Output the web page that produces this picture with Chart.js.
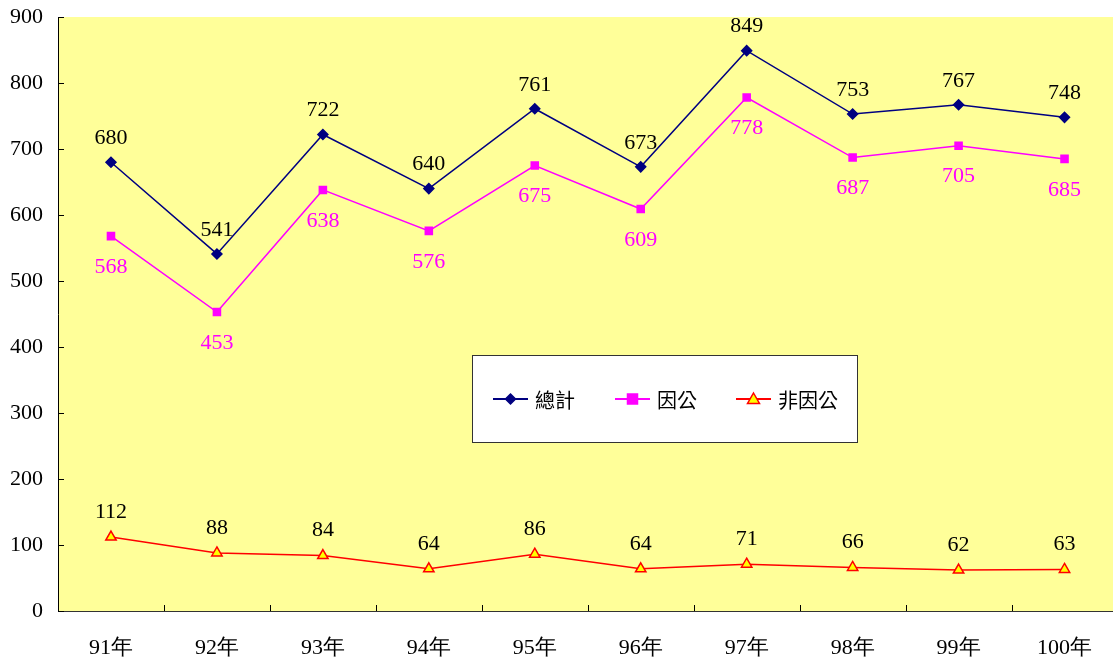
<!DOCTYPE html>
<html>
<head>
<meta charset="utf-8">
<script src="https://cdn.jsdelivr.net/npm/chart.js@4.4.0/dist/chart.umd.min.js"></script>
<style>
  html, body { margin: 0; padding: 0; background: #fff; overflow: hidden; }
  #wrap { width: 1125px; height: 660px; position: relative; }
</style>
</head>
<body>
<div id="wrap"><canvas id="chart"></canvas></div>
<script>
// data
const years = ['91年', '92年', '93年', '94年', '95年', '96年', '97年', '98年', '99年', '100年']
const total = [680, 541, 722, 640, 761, 673, 849, 753, 767, 748]
const onDuty = [568, 453, 638, 576, 675, 609, 778, 687, 705, 685]
const offDuty = [112, 88, 84, 64, 86, 64, 71, 66, 62, 63]
const seriesNames = ['總計', '因公', '非因公']

const serif = "'Liberation Serif', 'Times New Roman', serif"
const cjk = "'Noto Sans CJK TC', 'Noto Sans', sans-serif"

// yellow plot background + inward ticks
const plotBg = {
  id: 'plotBg',
  beforeDraw(chart) {
    const a = chart.chartArea, c = chart.ctx
    c.save()
    c.fillStyle = '#FFFF99'
    c.fillRect(a.left, a.top, a.right - a.left, a.bottom - a.top)
    c.restore()
  },
  afterDraw(chart) {
    const a = chart.chartArea, c = chart.ctx
    const x = chart.scales.x, y = chart.scales.y
    c.save()
    c.strokeStyle = '#000'
    c.lineWidth = 1
    c.beginPath()
    y.ticks.forEach((t, i) => {
      const py = Math.round(y.getPixelForTick(i)) + 0.5
      c.moveTo(a.left, py); c.lineTo(a.left + 6, py)
    })
    const half = (x.getPixelForValue(1) - x.getPixelForValue(0)) / 2
    for (let i = 1; i < years.length; i++) {
      const px = Math.round(x.getPixelForValue(i) - half) + 0.5
      c.moveTo(px, a.bottom); c.lineTo(px, a.bottom - 6)
    }
    c.stroke()
    c.restore()
  }
}

// value labels
const valueLabels = {
  id: 'valueLabels',
  afterDatasetsDraw(chart) {
    const c = chart.ctx
    c.save()
    c.font = '22px ' + serif
    c.textAlign = 'center'
    c.textBaseline = 'middle'
    chart.data.datasets.forEach((ds, di) => {
      const meta = chart.getDatasetMeta(di)
      meta.data.forEach((pt, i) => {
        c.fillStyle = ds.labelColor
        c.fillText(ds.data[i], pt.x, pt.y + ds.labelOffset)
      })
    })
    c.restore()
  }
}

// legend box inside plot
const boxLegend = {
  id: 'boxLegend',
  afterDraw(chart) {
    const c = chart.ctx
    const bx = 472, by = 355, bw = 385, bh = 87
    c.save()
    c.fillStyle = '#fff'
    c.fillRect(bx, by, bw, bh)
    c.strokeStyle = '#333'
    c.lineWidth = 1
    c.strokeRect(bx + 0.5, by + 0.5, bw, bh)
    const cy = by + 44
    const starts = [493, 615, 736]
    chart.data.datasets.forEach((ds, i) => {
      const x0 = starts[i]
      c.strokeStyle = ds.borderColor
      c.lineWidth = 2
      c.beginPath(); c.moveTo(x0, cy); c.lineTo(x0 + 35, cy); c.stroke()
      const mx = x0 + 17.5
      c.fillStyle = ds.pointBackgroundColor
      c.strokeStyle = ds.pointBorderColor
      c.lineWidth = 1.5
      c.beginPath()
      if (ds.pointStyle === 'rectRot') {
        c.moveTo(mx, cy - 5); c.lineTo(mx + 5, cy); c.lineTo(mx, cy + 5); c.lineTo(mx - 5, cy)
      } else if (ds.pointStyle === 'rect') {
        c.rect(mx - 5, cy - 5, 10, 10)
      } else {
        c.moveTo(mx, cy - 6); c.lineTo(mx + 6, cy + 4.5); c.lineTo(mx - 6, cy + 4.5)
      }
      c.closePath(); c.fill(); c.stroke()
      c.fillStyle = '#000'
      c.font = '20px ' + cjk
      c.textBaseline = 'middle'
      c.textAlign = 'left'
      c.fillText(ds.label, x0 + 42, cy + 1)
    })
    c.restore()
  }
}

const ctx = document.getElementById('chart')

new Chart(ctx, {
  type: 'line',
  data: {
    labels: years,
    datasets: [
      {
        label: seriesNames[0],
        data: total,
        borderColor: '#000080',
        backgroundColor: '#000080',
        pointBackgroundColor: '#000080',
        pointBorderColor: '#000080',
        pointStyle: 'rectRot',
        pointRadius: 5,
        borderWidth: 1.5,
        labelColor: '#000',
        labelOffset: -24,
      },
      {
        label: seriesNames[1],
        data: onDuty,
        borderColor: '#FF00FF',
        backgroundColor: '#FF00FF',
        pointBackgroundColor: '#FF00FF',
        pointBorderColor: '#FF00FF',
        pointStyle: 'rect',
        pointRadius: 5,
        borderWidth: 1.5,
        labelColor: '#FF00FF',
        labelOffset: 31,
      },
      {
        label: seriesNames[2],
        data: offDuty,
        borderColor: '#FF0000',
        backgroundColor: '#FFFF00',
        pointBackgroundColor: '#FFFF00',
        pointBorderColor: '#FF0000',
        pointStyle: 'triangle',
        pointRadius: 6,
        pointBorderWidth: 1.5,
        borderWidth: 1.5,
        labelColor: '#000',
        labelOffset: -25,
      },
    ],
  },
  options: {
    responsive: true,
    maintainAspectRatio: false,
    animation: false,
    layout: { padding: { top: 17, right: 0, left: 0, bottom: 0 } },
    plugins: {
      legend: { display: false },
      tooltip: { enabled: false },
    },
    scales: {
      x: {
        offset: true,
        grid: { display: false, offset: true },
        border: { display: true, color: '#333', width: 1 },
        ticks: { color: '#000', font: { size: 22, family: serif }, padding: 16, maxRotation: 0 },
        afterFit(s) { s.height = 49 },
      },
      y: {
        min: 0,
        max: 900,
        grid: { display: false },
        border: { display: true, color: '#000', width: 1 },
        ticks: { stepSize: 100, color: '#000', font: { size: 22, family: serif }, padding: 7 },
        afterFit(s) { s.width = 58; s.paddingTop = 0; s.paddingBottom = 0 },
      },
    },
  },
  plugins: [plotBg, valueLabels, boxLegend],
})
</script>
</body>
</html>
